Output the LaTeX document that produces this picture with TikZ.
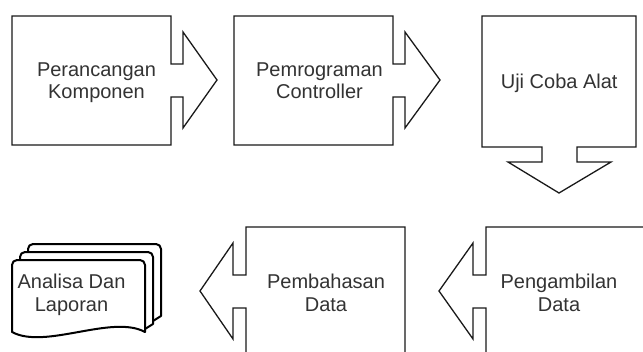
\documentclass[tikz,border=0pt]{standalone}
\usepackage{fontspec}
\setmainfont{Liberation Sans}
\definecolor{inkline}{HTML}{1A1A1A}
\definecolor{inktext}{HTML}{333333}
% two centred lines whose reference point is the first baseline
\newcommand{\twolines}[2]{\begin{tabular}[t]{@{}c@{}}#1\\#2\end{tabular}}
\begin{document}
\begin{tikzpicture}[x=1pt,y=-1pt,
  stage/.style={draw=inkline, line width=1.3pt, fill=white, line join=miter},
  pages/.style={draw=black, line width=2pt, fill=white, line join=round, line cap=round},
  caption/.style={text=inktext, inner sep=0pt, anchor=base,
    font=\fontsize{20}{22.8}\selectfont}]
\useasboundingbox (0,0) rectangle (643,351);
\clip (0,0) rectangle (643,351);
\fill[white] (0,0) rectangle (643,351);

% top row: boxes with arrows leaving to the right / downwards
\draw[stage] (12,16) -- (171,16) -- (171,64) -- (183,64) -- (183,32) -- (217,80)
  -- (183,128) -- (183,97) -- (171,97) -- (171,145) -- (12,145) -- cycle;
\draw[stage] (234,16) -- (393,16) -- (393,64) -- (405,64) -- (405,32) -- (440,80)
  -- (405,128) -- (405,97) -- (393,97) -- (393,145) -- (234,145) -- cycle;
\draw[stage] (482,16) -- (636,16) -- (636,147) -- (577,147) -- (577,162) -- (611,162)
  -- (559,193) -- (508,162) -- (542,162) -- (542,147) -- (482,147) -- cycle;

% bottom row: boxes with arrows leaving to the left
\draw[stage] (246,227) -- (405,227) -- (405,356) -- (246,356) -- (246,308) -- (233,308)
  -- (233,339) -- (200,291) -- (233,243) -- (233,275) -- (246,275) -- cycle;
\draw[stage] (486,227) -- (646,227) -- (646,356) -- (486,356) -- (486,308) -- (473,308)
  -- (473,339) -- (439,291) -- (473,243) -- (473,275) -- (486,275) -- cycle;

% stacked documents
\draw[pages] (28,252) -- (28,249) arc[start angle=180,end angle=270,radius=5]
  -- (156,244) arc[start angle=270,end angle=360,radius=5] -- (161,316) -- (153,321);
\draw[pages] (20,260) -- (20,257) arc[start angle=180,end angle=270,radius=5]
  -- (148,252) arc[start angle=270,end angle=360,radius=5] -- (153,324) -- (145,329);
\draw[pages] (12,332) -- (12,265) arc[start angle=180,end angle=270,radius=5]
  -- (140,260) arc[start angle=270,end angle=360,radius=5] -- (145,332)
  .. controls (112,314) and (45,350) .. cycle;

% labels
\node[caption] (perancangan) at (96.5,76) {\twolines{Perancangan}{Komponen}};
\node[caption] (pemrograman) at (319.5,76) {\twolines{Pemrograman}{Controller}};
\node[caption] (ujicoba) at (559.2,88.3) {Uji Coba Alat};
\node[caption] (pembahasan) at (326,288.3) {\twolines{Pembahasan}{Data}};
\node[caption] (pengambilan) at (559,288.3) {\twolines{Pengambilan}{Data}};
\node[caption] (analisa) at (71.5,288.3) {\twolines{Analisa Dan}{Laporan}};
\end{tikzpicture}
\end{document}
